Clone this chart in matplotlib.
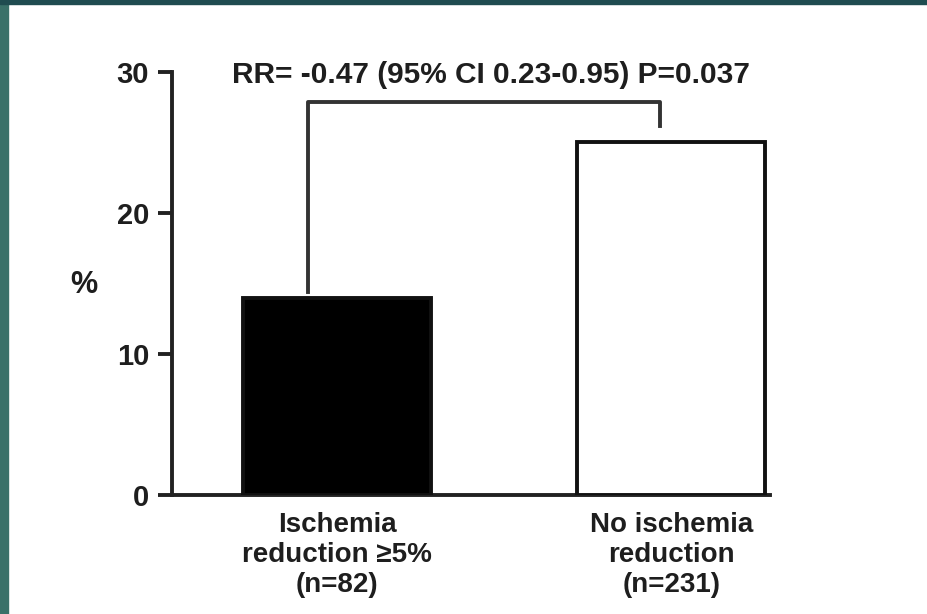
import matplotlib.pyplot as plt
import matplotlib.patches as patches

# 数据
groups = ['Ischemia\nreduction \u22655%\n(n=82)', 'No ischemia\nreduction\n(n=231)']
values = [14.0, 25.0]
bar_colors = ['black', 'white']
yticks = [0, 10, 20, 30]
stat_text = 'RR= -0.47 (95% CI 0.23-0.95) P=0.037'

plt.rcParams['font.family'] = ['Liberation Sans', 'DejaVu Sans']
plt.rcParams['font.weight'] = 'bold'

fig = plt.figure(figsize=(9.27, 6.14), dpi=100)
ax = fig.add_axes([0.1855, 0.1938, 0.645, 0.689])

x = list(range(len(values)))
ax.bar(x, values, width=0.563, color=bar_colors, edgecolor='#111111', linewidth=2.8, zorder=3)

ax.set_xlim(-0.4955, 1.295)
ax.set_ylim(0, 30)
ax.set_yticks(yticks)
ax.set_yticklabels([str(t) for t in yticks], fontsize=21, fontweight='bold', color='#1e1e1e')
ax.set_xticks(x)
ax.set_xticklabels(groups, fontsize=20, fontweight='bold', color='#1e1e1e', linespacing=1.2)
ax.tick_params(axis='x', length=0, pad=12)
ax.tick_params(axis='y', length=10, width=2.8, color='#222222', pad=6.5)

for side in ['top', 'right']:
    ax.spines[side].set_visible(False)
for side in ['left', 'bottom']:
    ax.spines[side].set_linewidth(2.8)
    ax.spines[side].set_color('#222222')

ax.set_ylabel('%', fontsize=22, fontweight='bold', rotation=0, color='#1e1e1e',
              ha='center', va='center')
ax.yaxis.set_label_coords(-0.147, 0.496)

# 比较括号
bx0, bx1 = -0.088, 0.966
ax.plot([bx0, bx0, bx1, bx1], [values[0] + 0.4, 27.9, 27.9, 26.2],
        color='#333333', linewidth=2.8, clip_on=False, zorder=4)
ax.text(0.46, 29.8, stat_text, ha='center', va='center', fontsize=21.5,
        fontweight='bold', color='#1e1e1e')

# 边框装饰
fig.patches.append(patches.Rectangle((0, 0), 8 / 927, 1, transform=fig.transFigure,
                                     color='#3a7169', zorder=0))
fig.patches.append(patches.Rectangle((0, 1 - 4 / 614), 1, 4 / 614, transform=fig.transFigure,
                                     color='#1f4c50', zorder=0))

fig.savefig('out.png', dpi=100)
